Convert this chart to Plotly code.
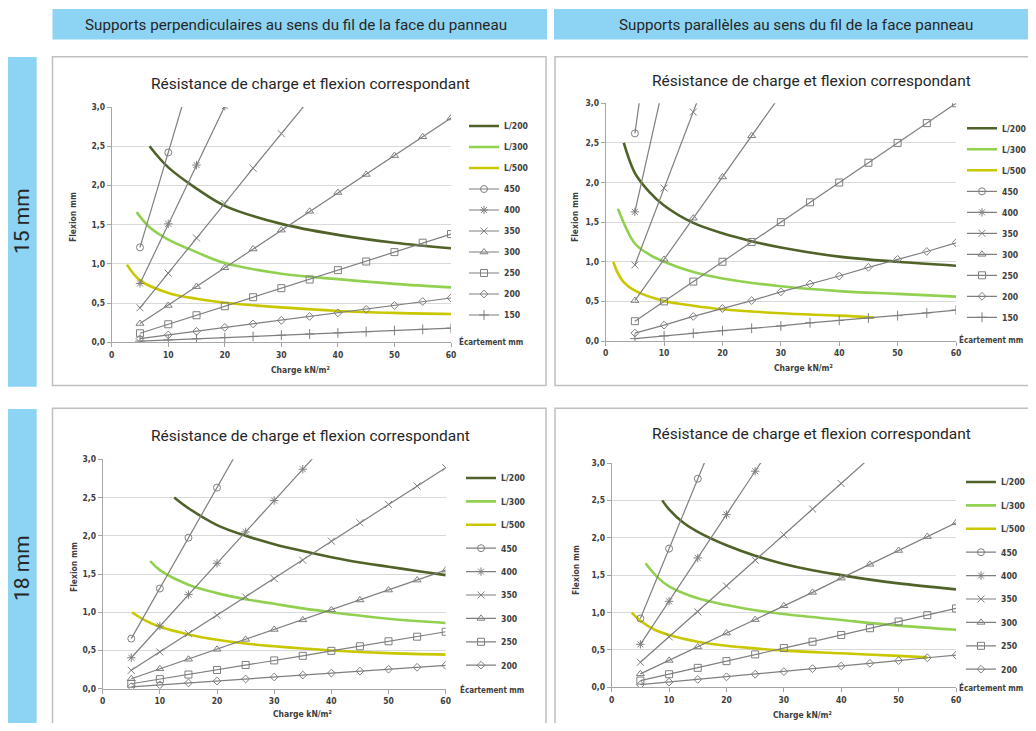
import plotly.graph_objects as go

# the html body has an 8px margin: the figure is sized to fit the 1036x731 window without overflow
PAGE_W, PAGE_H = 1036, 731
OFF = 8
W, H = PAGE_W - 2 * OFF, PAGE_H - 2 * OFF
FONT = "Liberation Sans Narrow, DejaVu Sans Condensed, Arial Narrow, Liberation Sans, sans-serif"
TFONT = "Roboto, Liberation Sans, sans-serif"
BLUE = "#8dd4f4"
GRAY = "#7f7f7f"
TXT = "#404040"

# ---------------- data ----------------
LOAD = [5, 10, 15, 20, 25, 30, 35, 40, 45, 50, 55, 60]
X_TICKS = [0, 10, 20, 30, 40, 50, 60]
Y_TICKS = [0.0, 0.5, 1.0, 1.5, 2.0, 2.5, 3.0]
LIMIT_NAMES = ["L/200", "L/300", "L/500"]
SPANS_15 = ["450", "400", "350", "300", "250", "200", "150"]
SPANS_18 = ["450", "400", "350", "300", "250", "200"]

HEADER_LEFT = "Supports perpendiculaires au sens du fil de la face du panneau"
HEADER_RIGHT = "Supports parallèles au sens du fil de la face panneau"
ROW_LABELS = ["15 mm", "18 mm"]
CHART_TITLE = "Résistance de charge et flexion correspondant"
X_TITLE = "Charge kN/m²"
Y_TITLE = "Flexion mm"
LEGEND_NOTE = "Écartement mm"

# top-left: 15 mm, perpendicular
TL_450 = [1.21, 2.42, 3.63]
TL_400 = [0.75, 1.51, 2.26, 3.01]
TL_350 = [0.44, 0.88, 1.33, 1.77, 2.22, 2.66, 3.10]
TL_300 = [0.24, 0.47, 0.71, 0.95, 1.19, 1.43, 1.67, 1.91, 2.14, 2.38, 2.62, 2.86]
TL_250 = [0.115, 0.23, 0.345, 0.46, 0.575, 0.69, 0.80, 0.92, 1.03, 1.15, 1.27, 1.38]
TL_200 = [0.047, 0.094, 0.14, 0.19, 0.235, 0.28, 0.33, 0.375, 0.42, 0.47, 0.52, 0.565]
TL_150 = [0.015, 0.03, 0.045, 0.06, 0.075, 0.09, 0.105, 0.12, 0.135, 0.15, 0.165, 0.18]
TL_L200_X = [6.7, 10, 15, 20, 30, 40, 50, 60]
TL_L200_Y = [2.50, 2.23, 1.96, 1.74, 1.51, 1.37, 1.27, 1.20]
TL_L300_X = [4.4, 6.8, 10, 15, 20, 30, 40, 50, 60]
TL_L300_Y = [1.66, 1.46, 1.31, 1.15, 1.01, 0.875, 0.805, 0.745, 0.70]
TL_L500_X = [2.7, 5, 10, 15, 20, 30, 40, 50, 60]
TL_L500_Y = [0.99, 0.79, 0.63, 0.555, 0.505, 0.445, 0.40, 0.375, 0.36]

# top-right: 15 mm, parallel
TR_450 = [2.62, 5.24]
TR_400 = [1.63, 3.27]
TR_350 = [0.96, 1.93, 2.89, 3.86]
TR_300 = [0.51, 1.03, 1.55, 2.07, 2.59, 3.11]
TR_250 = [0.25, 0.50, 0.75, 1.00, 1.25, 1.50, 1.75, 2.00, 2.25, 2.50, 2.75, 3.00]
TR_200 = [0.10, 0.20, 0.31, 0.41, 0.51, 0.62, 0.72, 0.82, 0.93, 1.03, 1.13, 1.24]
TR_150 = [0.03, 0.065, 0.097, 0.13, 0.16, 0.19, 0.23, 0.26, 0.29, 0.32, 0.355, 0.39]
TR_L200_X = [3.1, 5, 7.5, 10, 15, 20, 25, 30, 40, 50, 60]
TR_L200_Y = [2.50, 2.12, 1.88, 1.71, 1.49, 1.36, 1.26, 1.18, 1.065, 1.00, 0.95]
TR_L300_X = [2.1, 5, 7.5, 10, 15, 20, 30, 40, 50, 60]
TR_L300_Y = [1.67, 1.23, 1.09, 1.00, 0.87, 0.79, 0.69, 0.63, 0.595, 0.56]
TR_L500_X = [1.3, 2, 3, 5, 10, 15, 20, 30, 40, 46]
TR_L500_Y = [1.00, 0.87, 0.75, 0.635, 0.505, 0.445, 0.40, 0.35, 0.32, 0.295]

# bottom-left: 18 mm, perpendicular
BL_450 = [0.655, 1.31, 1.975, 2.63, 3.29]
BL_400 = [0.405, 0.82, 1.23, 1.64, 2.05, 2.46, 2.87, 3.28]
BL_350 = [0.24, 0.48, 0.72, 0.96, 1.20, 1.44, 1.68, 1.93, 2.17, 2.41, 2.65, 2.89]
BL_300 = [0.13, 0.26, 0.385, 0.515, 0.645, 0.775, 0.90, 1.03, 1.16, 1.29, 1.42, 1.55]
BL_250 = [0.065, 0.125, 0.185, 0.245, 0.31, 0.37, 0.43, 0.495, 0.555, 0.62, 0.68, 0.745]
BL_200 = [0.025, 0.05, 0.075, 0.10, 0.127, 0.153, 0.178, 0.204, 0.23, 0.255, 0.28, 0.305]
BL_L200_X = [12.5, 15, 20, 25, 30, 35, 40, 45, 50, 55, 60]
BL_L200_Y = [2.50, 2.36, 2.14, 2.00, 1.89, 1.80, 1.72, 1.65, 1.595, 1.54, 1.485]
BL_L300_X = [8.3, 10, 15, 20, 25, 30, 35, 40, 50, 60]
BL_L300_Y = [1.67, 1.55, 1.36, 1.25, 1.17, 1.11, 1.05, 1.00, 0.915, 0.86]
BL_L500_X = [5.1, 7.5, 10, 15, 20, 25, 30, 35, 40, 50, 60]
BL_L500_Y = [1.00, 0.89, 0.81, 0.71, 0.64, 0.59, 0.555, 0.525, 0.50, 0.465, 0.445]

# bottom-right: 18 mm, parallel
BR_450 = [0.92, 1.855, 2.79, 3.72]
BR_400 = [0.575, 1.15, 1.73, 2.31, 2.89, 3.47]
BR_350 = [0.335, 0.675, 1.01, 1.355, 1.70, 2.04, 2.385, 2.725, 3.07]
BR_300 = [0.18, 0.36, 0.54, 0.725, 0.905, 1.09, 1.27, 1.46, 1.645, 1.83, 2.015, 2.20]
BR_250 = [0.09, 0.175, 0.26, 0.35, 0.44, 0.525, 0.61, 0.70, 0.79, 0.88, 0.965, 1.055]
BR_200 = [0.035, 0.07, 0.105, 0.14, 0.175, 0.21, 0.25, 0.285, 0.32, 0.357, 0.395, 0.43]
BR_L200_X = [8.8, 10, 12.5, 15, 20, 25, 30, 35, 40, 45, 50, 60]
BR_L200_Y = [2.50, 2.38, 2.20, 2.08, 1.90, 1.76, 1.65, 1.565, 1.50, 1.44, 1.39, 1.31]
BR_L300_X = [5.9, 8, 10, 15, 20, 25, 30, 40, 50, 60]
BR_L300_Y = [1.66, 1.47, 1.35, 1.19, 1.10, 1.03, 0.98, 0.90, 0.825, 0.77]
BR_L500_X = [3.5, 5, 7.5, 10, 15, 20, 25, 30, 40, 50, 55]
BR_L500_Y = [1.00, 0.89, 0.77, 0.70, 0.61, 0.555, 0.52, 0.49, 0.455, 0.42, 0.40]

# ---------------- styles ----------------
LIMIT_COLORS = {"L/200": "#4f6228", "L/300": "#92d050", "L/500": "#c9c800"}
SPAN_SYMBOLS = {"450": "circle-open", "400": "asterisk-open", "350": "x-thin-open",
                "300": "triangle-up-open", "250": "square-open", "200": "diamond-open",
                "150": "cross-thin-open"}
SPAN_SIZES = {"450": 7, "400": 7, "350": 7, "300": 7, "250": 7, "200": 6, "150": 7}


def px(x):
    return (x - OFF) / W


def py(y):
    return 1 - (y - OFF) / H


def note(text, x, y, size, family=FONT, angle=0, weight="normal", color=TXT, xanchor="center"):
    return dict(text=text, x=px(x), y=py(y), xref="paper", yref="paper", showarrow=False,
                xanchor=xanchor, yanchor="middle", textangle=angle,
                font=dict(size=size, color=color, family=family, weight=weight))


panels = [
    dict(ax="", leg="legend", spans=SPANS_15,
         series=[TL_450, TL_400, TL_350, TL_300, TL_250, TL_200, TL_150],
         limits=[(TL_L200_X, TL_L200_Y), (TL_L300_X, TL_L300_Y), (TL_L500_X, TL_L500_Y)],
         dom_x=(111.7, 451), dom_y=(107, 342.3), title=(310, 84),
         leg_pos=(464, 111.5), gap=2, note=(457, 341), ytitle=(73, 217), xtitle=(300, 370)),
    dict(ax="2", leg="legend2", spans=SPANS_15,
         series=[TR_450, TR_400, TR_350, TR_300, TR_250, TR_200, TR_150],
         limits=[(TR_L200_X, TR_L200_Y), (TR_L300_X, TR_L300_Y), (TR_L500_X, TR_L500_Y)],
         dom_x=(605.7, 956), dom_y=(103.3, 341), title=(811, 81),
         leg_pos=(962, 113.8), gap=2, note=(957, 339), ytitle=(575, 217), xtitle=(803, 368)),
    dict(ax="3", leg="legend3", spans=SPANS_18,
         series=[BL_450, BL_400, BL_350, BL_300, BL_250, BL_200],
         limits=[(BL_L200_X, BL_L200_Y), (BL_L300_X, BL_L300_Y), (BL_L500_X, BL_L500_Y)],
         dom_x=(102.7, 445.7), dom_y=(459.3, 688.7), title=(310, 436),
         leg_pos=(461, 463.5), gap=4.4, note=(458, 689), ytitle=(74, 567), xtitle=(302, 714)),
    dict(ax="4", leg="legend4", spans=SPANS_18,
         series=[BR_450, BR_400, BR_350, BR_300, BR_250, BR_200],
         limits=[(BR_L200_X, BR_L200_Y), (BR_L300_X, BR_L300_Y), (BR_L500_X, BR_L500_Y)],
         dom_x=(611.7, 956), dom_y=(463, 687.3), title=(811, 434),
         leg_pos=(961, 467.5), gap=4.4, note=(957, 687), ytitle=(576, 570), xtitle=(802, 715)),
]

fig = go.Figure()
layout = dict(
    width=W, height=H, margin=dict(l=0, r=0, t=0, b=0, autoexpand=False),
    paper_bgcolor="white", plot_bgcolor="rgba(0,0,0,0)", separators=", ",
    font=dict(family=FONT, color=TXT), showlegend=True,
)
shapes = []
annotations = []


def rect(x0, x1, y0, y1, fill, line=None):
    return dict(type="rect", xref="paper", yref="paper", x0=px(x0), x1=px(x1),
                y0=py(y1), y1=py(y0), fillcolor=fill,
                line=line if line else dict(width=0), layer="below")


# header bars and row bars
shapes.append(rect(52.5, 547, 9, 39.5, BLUE))
shapes.append(rect(554, 1050, 9, 39.5, BLUE))
shapes.append(rect(6.7, 36.7, 57, 386.7, BLUE))
shapes.append(rect(6.7, 36.7, 409, 745, BLUE))
annotations.append(note(HEADER_LEFT, 296, 24.5, 15.2, TFONT, color="#262626"))
annotations.append(note(HEADER_RIGHT, 796, 24.5, 15.2, TFONT, color="#262626"))
annotations.append(note(ROW_LABELS[0], 22, 221, 21, TFONT, angle=-90, color="#262626"))
annotations.append(note(ROW_LABELS[1], 22, 568, 21, TFONT, angle=-90, color="#262626"))

# panel boxes
for (x0, x1, y0, y1) in [(52.5, 546, 56.7, 385.5), (555, 1050, 56.7, 385.5),
                         (52.5, 546, 408.3, 745), (555, 1050, 408.3, 745)]:
    shapes.append(rect(x0, x1, y0, y1, "white", dict(color="#bfbfbf", width=1.5)))

for p in panels:
    ax = p["ax"]
    xa, ya = "x" + ax, "y" + ax
    leg = p["leg"]
    rank = 1
    for name, (lx, ly) in zip(LIMIT_NAMES, p["limits"]):
        fig.add_trace(go.Scatter(
            x=lx, y=ly, mode="lines", name=name, xaxis=xa, yaxis=ya, legend=leg,
            legendgroup=leg + name, legendrank=rank,
            line=dict(color=LIMIT_COLORS[name], width=2.6, shape="spline", smoothing=1.0),
            hoverinfo="skip"))
        rank += 1
    for name, vals in zip(p["spans"], p["series"]):
        fig.add_trace(go.Scatter(
            x=LOAD[:len(vals)], y=vals, mode="lines+markers", name=name, xaxis=xa, yaxis=ya,
            legend=leg, legendgroup=leg + name, legendrank=rank,
            line=dict(color=GRAY, width=1.2),
            marker=dict(symbol=SPAN_SYMBOLS[name], size=SPAN_SIZES[name],
                        color=GRAY, line=dict(color=GRAY, width=1)),
            hoverinfo="skip"))
        rank += 1

    xkey = "xaxis" + ax
    ykey = "yaxis" + ax
    layout[xkey] = dict(
        domain=[px(p["dom_x"][0]), px(p["dom_x"][1])], range=[0, 60], anchor=ya,
        tickvals=X_TICKS, showgrid=False, zeroline=False, showline=True,
        linecolor="#a6a6a6", linewidth=1, ticks="outside", ticklen=4, tickcolor="#a6a6a6",
        tickfont=dict(size=8.5, color=TXT, family=FONT, weight="bold"), fixedrange=True)
    layout[ykey] = dict(
        domain=[py(p["dom_y"][1]), py(p["dom_y"][0])], range=[0, 3], anchor=xa,
        tickvals=Y_TICKS, tickformat=".1f", showgrid=True, gridcolor="#d9d9d9", gridwidth=1,
        zeroline=False, showline=True, linecolor="#a6a6a6", linewidth=1, ticks="outside",
        ticklen=4, tickcolor="#a6a6a6",
        tickfont=dict(size=8.5, color=TXT, family=FONT, weight="bold"), fixedrange=True)
    layout[leg] = dict(
        x=px(p["leg_pos"][0]), y=py(p["leg_pos"][1]), xanchor="left", yanchor="top",
        bgcolor="rgba(0,0,0,0)", borderwidth=0, tracegroupgap=p["gap"], itemwidth=30,
        font=dict(size=8.6, color=TXT, family=FONT, weight="bold"), traceorder="grouped",
        itemclick=False, itemdoubleclick=False)
    annotations.append(note(CHART_TITLE, p["title"][0], p["title"][1], 15.5, TFONT,
                            color="#262626"))
    annotations.append(note(LEGEND_NOTE, p["note"][0], p["note"][1], 8, weight="bold",
                            xanchor="left"))
    annotations.append(note(Y_TITLE, p["ytitle"][0], p["ytitle"][1], 8.5, angle=-90,
                            weight="bold"))
    annotations.append(note(X_TITLE, p["xtitle"][0], p["xtitle"][1], 8.5, weight="bold"))

layout["shapes"] = shapes
layout["annotations"] = annotations
fig.update_layout(**layout)
fig.write_html("out.html")
